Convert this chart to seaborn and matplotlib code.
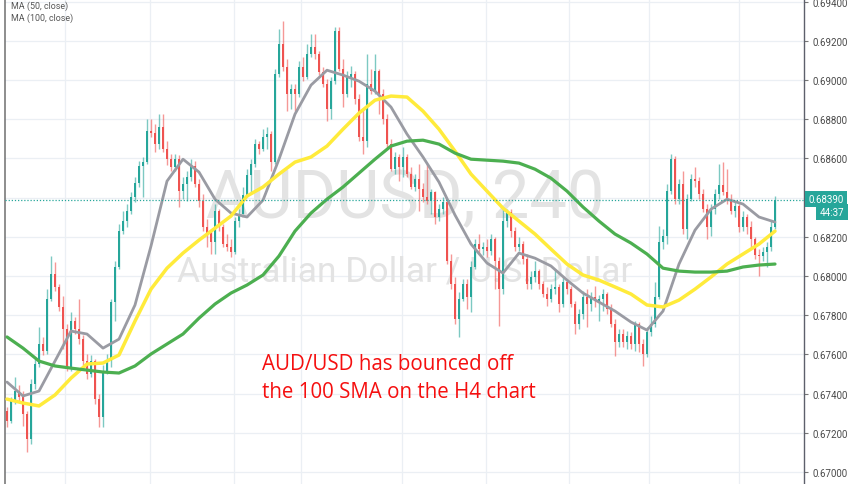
import numpy as np
import pandas as pd
import matplotlib
matplotlib.use("Agg")
import matplotlib.pyplot as plt
import seaborn as sns

# AUD/USD, H4 candles (left to right)
opens = [0.67311, 0.67260, 0.67362, 0.67413, 0.67383, 0.67296, 0.67168, 0.67449, 0.67551, 0.67653,
         0.67617, 0.67882, 0.68010, 0.67944, 0.67842, 0.67729, 0.67536, 0.67770, 0.67729, 0.67678,
         0.67566, 0.67500, 0.67566, 0.67372, 0.67281, 0.67515, 0.67566, 0.67867, 0.68046, 0.68229,
         0.68280, 0.68331, 0.68403, 0.68474, 0.68561, 0.68581, 0.68739, 0.68729, 0.68673, 0.68760,
         0.68647, 0.68596, 0.68556, 0.68596, 0.68433, 0.68469, 0.68505, 0.68561, 0.68469, 0.68382,
         0.68250, 0.68219, 0.68173, 0.68331, 0.68250, 0.68163, 0.68148, 0.68122, 0.68280, 0.68316,
         0.68413, 0.68515, 0.68571, 0.68673, 0.68647, 0.68709, 0.68724, 0.68581, 0.69030, 0.69183,
         0.69066, 0.68928, 0.68953, 0.68928, 0.69066, 0.69015, 0.69132, 0.69168, 0.69132, 0.69040,
         0.68979, 0.68851, 0.68994, 0.69249, 0.69055, 0.68928, 0.69015, 0.69030, 0.68902, 0.68709,
         0.68688, 0.68979, 0.68943, 0.69045, 0.68928, 0.68800, 0.68673, 0.68545, 0.68607, 0.68556,
         0.68607, 0.68520, 0.68454, 0.68494, 0.68443, 0.68403, 0.68382, 0.68428, 0.68301, 0.68341,
         0.68377, 0.68076, 0.67959, 0.67780, 0.67882, 0.67959, 0.67893, 0.68046, 0.68163, 0.68137,
         0.68148, 0.68127, 0.68188, 0.68076, 0.67933, 0.68280, 0.68326, 0.68229, 0.68148, 0.68163,
         0.68086, 0.67959, 0.67995, 0.68025, 0.67959, 0.67908, 0.67882, 0.67933, 0.67944, 0.67857,
         0.67969, 0.67933, 0.67857, 0.67755, 0.67806, 0.67893, 0.67857, 0.67893, 0.67872, 0.67882,
         0.67908, 0.67831, 0.67755, 0.67663, 0.67704, 0.67663, 0.67694, 0.67653, 0.67755, 0.67653,
         0.67602, 0.67714, 0.67755, 0.67893, 0.68173, 0.68204, 0.68433, 0.68596, 0.68392, 0.68469,
         0.68239, 0.68392, 0.68494, 0.68484, 0.68418, 0.68341, 0.68250, 0.68341, 0.68418, 0.68464,
         0.68428, 0.68392, 0.68331, 0.68357, 0.68250, 0.68301, 0.68250, 0.68188, 0.68107, 0.68102,
         0.68122, 0.68148, 0.68250]
highs = [0.67332, 0.67383, 0.67485, 0.67444, 0.67413, 0.67311, 0.67474, 0.67576, 0.67740, 0.67689,
         0.67933, 0.68102, 0.68071, 0.67959, 0.67898, 0.67755, 0.67816, 0.67791, 0.67882, 0.67699,
         0.67602, 0.67597, 0.67576, 0.67398, 0.67546, 0.67602, 0.67882, 0.68076, 0.68265, 0.68331,
         0.68367, 0.68428, 0.68505, 0.68586, 0.68607, 0.68800, 0.68800, 0.68775, 0.68826, 0.68826,
         0.68688, 0.68622, 0.68622, 0.68617, 0.68505, 0.68535, 0.68596, 0.68586, 0.68494, 0.68418,
         0.68290, 0.68229, 0.68367, 0.68341, 0.68265, 0.68214, 0.68188, 0.68301, 0.68341, 0.68454,
         0.68545, 0.68596, 0.68698, 0.68688, 0.68749, 0.68760, 0.68739, 0.69055, 0.69259, 0.69300,
         0.69106, 0.68979, 0.68979, 0.69096, 0.69117, 0.69183, 0.69234, 0.69234, 0.69147, 0.69066,
         0.69004, 0.69015, 0.69270, 0.69270, 0.69106, 0.69045, 0.69071, 0.69045, 0.68928, 0.68851,
         0.69132, 0.69055, 0.69132, 0.69055, 0.68953, 0.68826, 0.68698, 0.68632, 0.68622, 0.68658,
         0.68622, 0.68556, 0.68520, 0.68571, 0.68474, 0.68571, 0.68443, 0.68433, 0.68367, 0.68403,
         0.68392, 0.68112, 0.67995, 0.67918, 0.67984, 0.67984, 0.68076, 0.68188, 0.68214, 0.68173,
         0.68188, 0.68214, 0.68199, 0.68097, 0.68341, 0.68341, 0.68341, 0.68250, 0.68199, 0.68178,
         0.68112, 0.68025, 0.68076, 0.68035, 0.67974, 0.67944, 0.67959, 0.68035, 0.67959, 0.67995,
         0.67984, 0.67949, 0.67872, 0.67831, 0.67923, 0.67933, 0.67918, 0.67949, 0.67903, 0.67933,
         0.67918, 0.67857, 0.67780, 0.67729, 0.67729, 0.67719, 0.67714, 0.67770, 0.67765, 0.67678,
         0.67740, 0.67796, 0.67969, 0.68255, 0.68239, 0.68469, 0.68622, 0.68612, 0.68494, 0.68535,
         0.68418, 0.68520, 0.68556, 0.68505, 0.68443, 0.68367, 0.68367, 0.68443, 0.68571, 0.68581,
         0.68545, 0.68418, 0.68377, 0.68367, 0.68331, 0.68316, 0.68280, 0.68199, 0.68137, 0.68148,
         0.68173, 0.68280, 0.68408]
lows = [0.67230, 0.67250, 0.67347, 0.67362, 0.67235, 0.67102, 0.67143, 0.67423, 0.67536, 0.67597,
        0.67602, 0.67872, 0.67923, 0.67821, 0.67627, 0.67515, 0.67515, 0.67704, 0.67653, 0.67546,
        0.67474, 0.67485, 0.67347, 0.67230, 0.67230, 0.67500, 0.67536, 0.67770, 0.68035, 0.68214,
        0.68250, 0.68316, 0.68377, 0.68454, 0.68403, 0.68571, 0.68709, 0.68632, 0.68647, 0.68632,
        0.68566, 0.68535, 0.68535, 0.68352, 0.68392, 0.68382, 0.68484, 0.68454, 0.68352, 0.68229,
        0.68148, 0.68112, 0.68112, 0.68229, 0.68148, 0.68127, 0.68097, 0.68112, 0.68250, 0.68316,
        0.68403, 0.68418, 0.68556, 0.68622, 0.68637, 0.68647, 0.68535, 0.68571, 0.69015, 0.69045,
        0.68841, 0.68851, 0.68841, 0.68913, 0.68994, 0.69004, 0.69117, 0.69106, 0.69025, 0.68964,
        0.68790, 0.68800, 0.68979, 0.69045, 0.68862, 0.68913, 0.68964, 0.68877, 0.68688, 0.68622,
        0.68658, 0.68928, 0.68928, 0.68826, 0.68775, 0.68647, 0.68535, 0.68520, 0.68484, 0.68505,
        0.68505, 0.68443, 0.68433, 0.68331, 0.68377, 0.68367, 0.68316, 0.68265, 0.68280, 0.68316,
        0.68061, 0.67933, 0.67755, 0.67689, 0.67872, 0.67831, 0.67816, 0.68035, 0.68112, 0.68107,
        0.68097, 0.68107, 0.67933, 0.67745, 0.67908, 0.68250, 0.68199, 0.68127, 0.68127, 0.68061,
        0.67933, 0.67933, 0.67969, 0.67933, 0.67893, 0.67847, 0.67867, 0.67908, 0.67816, 0.67842,
        0.67908, 0.67842, 0.67704, 0.67729, 0.67780, 0.67740, 0.67821, 0.67842, 0.67770, 0.67821,
        0.67806, 0.67740, 0.67592, 0.67638, 0.67638, 0.67627, 0.67627, 0.67617, 0.67612, 0.67541,
        0.67587, 0.67694, 0.67740, 0.67882, 0.68137, 0.68163, 0.68418, 0.68367, 0.68367, 0.68214,
        0.68188, 0.68382, 0.68454, 0.68392, 0.68326, 0.68188, 0.68204, 0.68316, 0.68392, 0.68413,
        0.68367, 0.68316, 0.68301, 0.68224, 0.68229, 0.68214, 0.68148, 0.68086, 0.68000, 0.68076,
        0.68046, 0.68127, 0.68239]
closes = [0.67260, 0.67362, 0.67413, 0.67383, 0.67296, 0.67168, 0.67449, 0.67551, 0.67653, 0.67617,
          0.67882, 0.68010, 0.67944, 0.67842, 0.67729, 0.67536, 0.67770, 0.67729, 0.67678, 0.67566,
          0.67500, 0.67566, 0.67372, 0.67281, 0.67515, 0.67566, 0.67867, 0.68046, 0.68229, 0.68280,
          0.68331, 0.68403, 0.68474, 0.68561, 0.68581, 0.68739, 0.68729, 0.68673, 0.68760, 0.68647,
          0.68596, 0.68556, 0.68596, 0.68433, 0.68469, 0.68505, 0.68561, 0.68469, 0.68382, 0.68250,
          0.68219, 0.68173, 0.68331, 0.68250, 0.68163, 0.68148, 0.68122, 0.68280, 0.68316, 0.68413,
          0.68515, 0.68571, 0.68673, 0.68647, 0.68709, 0.68724, 0.68581, 0.69030, 0.69183, 0.69066,
          0.68928, 0.68953, 0.68928, 0.69066, 0.69015, 0.69132, 0.69168, 0.69132, 0.69040, 0.68979,
          0.68851, 0.68994, 0.69249, 0.69055, 0.68928, 0.69015, 0.69030, 0.68902, 0.68709, 0.68688,
          0.68979, 0.68943, 0.69045, 0.68928, 0.68800, 0.68673, 0.68545, 0.68607, 0.68556, 0.68607,
          0.68520, 0.68454, 0.68494, 0.68443, 0.68403, 0.68382, 0.68428, 0.68301, 0.68341, 0.68377,
          0.68076, 0.67959, 0.67780, 0.67882, 0.67959, 0.67893, 0.68046, 0.68163, 0.68137, 0.68148,
          0.68127, 0.68188, 0.68076, 0.67933, 0.68280, 0.68326, 0.68229, 0.68148, 0.68163, 0.68086,
          0.67959, 0.67995, 0.68025, 0.67959, 0.67908, 0.67882, 0.67933, 0.67944, 0.67857, 0.67969,
          0.67933, 0.67857, 0.67755, 0.67806, 0.67893, 0.67857, 0.67893, 0.67872, 0.67882, 0.67908,
          0.67831, 0.67755, 0.67663, 0.67704, 0.67663, 0.67694, 0.67653, 0.67755, 0.67653, 0.67602,
          0.67714, 0.67755, 0.67893, 0.68173, 0.68204, 0.68433, 0.68596, 0.68392, 0.68469, 0.68239,
          0.68392, 0.68494, 0.68484, 0.68418, 0.68341, 0.68250, 0.68341, 0.68418, 0.68464, 0.68428,
          0.68392, 0.68331, 0.68357, 0.68250, 0.68301, 0.68250, 0.68188, 0.68107, 0.68102, 0.68122,
          0.68148, 0.68250, 0.68390]

# moving averages, read every 4th bar
ma_bars = list(range(0, 193, 4))
ma_grey = [0.67459, 0.67388, 0.67413, 0.67566, 0.67719, 0.67704, 0.67632, 0.67678, 0.67852, 0.68153,
           0.68484, 0.68596, 0.68530, 0.68392, 0.68321, 0.68301, 0.68387, 0.68596, 0.68826, 0.68974,
           0.69050, 0.69025, 0.68994, 0.68943, 0.68862, 0.68724, 0.68607, 0.68479, 0.68311, 0.68163,
           0.68066, 0.68015, 0.68117, 0.68091, 0.68051, 0.67979, 0.67913, 0.67867, 0.67821, 0.67765,
           0.67724, 0.67821, 0.68061, 0.68234, 0.68341, 0.68392, 0.68367, 0.68301, 0.68275]
ma_50 = [0.67372, 0.67352, 0.67337, 0.67393, 0.67479, 0.67551, 0.67556, 0.67597, 0.67770, 0.67933,
         0.68040, 0.68117, 0.68183, 0.68244, 0.68306, 0.68408, 0.68454, 0.68520, 0.68581, 0.68607,
         0.68663, 0.68749, 0.68831, 0.68897, 0.68918, 0.68913, 0.68841, 0.68749, 0.68637, 0.68520,
         0.68433, 0.68346, 0.68280, 0.68214, 0.68137, 0.68061, 0.68005, 0.67979, 0.67944, 0.67908,
         0.67852, 0.67842, 0.67877, 0.67933, 0.67995, 0.68061, 0.68112, 0.68163, 0.68229]
ma_100 = [0.67689, 0.67632, 0.67566, 0.67541, 0.67530, 0.67520, 0.67510, 0.67505, 0.67541, 0.67602,
          0.67653, 0.67704, 0.67785, 0.67857, 0.67913, 0.67954, 0.68005, 0.68102, 0.68229, 0.68321,
          0.68392, 0.68454, 0.68525, 0.68596, 0.68663, 0.68688, 0.68693, 0.68673, 0.68627, 0.68596,
          0.68591, 0.68586, 0.68576, 0.68545, 0.68499, 0.68433, 0.68352, 0.68280, 0.68214, 0.68168,
          0.68112, 0.68040, 0.68025, 0.68020, 0.68020, 0.68025, 0.68046, 0.68056, 0.68061]

price_ticks = [0.670, 0.672, 0.674, 0.676, 0.678, 0.680, 0.682, 0.684, 0.686, 0.688, 0.690, 0.692, 0.694]
day_lines = [14.5, 35.75, 56.75, 73.5, 98.75, 119.75, 140.5, 160.5, 183]
last_price = 0.68390
countdown = "44:37"

UP = "#26a69a"
DOWN = "#ef5350"

sns.set_style("white")
plt.rcParams['font.family'] = ['Roboto', 'DejaVu Sans']

df = pd.DataFrame({"open": opens, "high": highs, "low": lows, "close": closes})
df["bar"] = np.arange(len(df))
df["color"] = np.where(df["close"] >= df["open"], UP, DOWN)
df["body"] = (df["close"] - df["open"]).abs().clip(lower=0.00003)
df["bottom"] = df[["open", "close"]].min(axis=1)

ma = pd.DataFrame({"bar": ma_bars, "grey": ma_grey, "ma50": ma_50, "ma100": ma_100})

fig = plt.figure(figsize=(8.52, 4.85), dpi=100)
ax = fig.add_axes([5 / 852, 0, 799 / 852, 1])

# watermark
ax.text(0.5006, 1 - 200 / 485, "AUDUSD, 240", transform=ax.transAxes, ha="center", va="center",
        fontsize=48, color="#e3e3e3", zorder=0.6)
ax.text(0.5006, 1 - 272 / 485, "Australian Dollar / U.S. Dollar", transform=ax.transAxes,
        ha="center", va="center", fontsize=25.5, color="#e3e3e3", zorder=0.6)

# candles
ax.vlines(df["bar"], df["low"], df["high"], colors=df["color"], linewidth=1.0, alpha=0.6, zorder=2)
ax.bar(df["bar"], df["body"], bottom=df["bottom"], width=0.62, color=df["color"], linewidth=0, zorder=2.1)

# moving averages
sns.lineplot(data=ma, x="bar", y="grey", ax=ax, color="#9a9ba3", linewidth=2.0, zorder=3)
sns.lineplot(data=ma, x="bar", y="ma50", ax=ax, color="#ffeb3b", linewidth=2.5, zorder=3)
sns.lineplot(data=ma, x="bar", y="ma100", ax=ax, color="#4caf50", linewidth=2.3, zorder=3)

ax.axhline(last_price, color=UP, linewidth=0.9, linestyle=(0, (1, 1.5)), zorder=3.2)

ax.set_xlim(-0.5, 199.25)
ax.set_ylim(0.669388, 0.694133)
ax.set_xlabel("")
ax.set_ylabel("")

ax.set_xticks(day_lines)
ax.tick_params(axis="x", length=0, labelbottom=False)
ax.yaxis.tick_right()
ax.set_yticks(price_ticks)
ax.set_yticklabels(["" if abs(t - 0.684) < 1e-9 else f"{t:.5f}" for t in price_ticks])
ax.tick_params(axis="y", length=3, width=0.8, color="#777777", labelsize=7, labelcolor="#4a4a4a", pad=3)
ax.grid(True, color="#ebeff4", linewidth=0.9)
ax.set_axisbelow(True)

for s in ["top", "bottom"]:
    ax.spines[s].set_visible(False)
ax.spines["right"].set_color("#5d606b")
ax.spines["right"].set_linewidth(1.0)
ax.spines["left"].set_color("#7a7a7a")
ax.spines["left"].set_linewidth(1.2)

# legend lines at the top-left
ax.text(0.0075, 1 - 6 / 485, "MA (50, close)", transform=ax.transAxes, ha="left", va="center",
        fontsize=6.4, color="#555555")
ax.text(0.0075, 1 - 18 / 485, "MA (100, close)", transform=ax.transAxes, ha="left", va="center",
        fontsize=6.4, color="#555555")

# annotation
ax.text(0.3217, 1 - 365 / 485, "AUD/USD has bounced off", transform=ax.transAxes, ha="left",
        va="center", fontsize=14.8, color="#f50f0f", family=["Open Sans", "DejaVu Sans"], zorder=5)
ax.text(0.3217, 1 - 393 / 485, "the 100 SMA on the H4 chart", transform=ax.transAxes, ha="left",
        va="center", fontsize=14.8, color="#f50f0f", family=["Open Sans", "DejaVu Sans"], zorder=5)

# last price tag
fig.text(826 / 852, 1 - 200 / 485, f"{last_price:.5f}", ha="center", va="center", fontsize=7,
         color="white", bbox=dict(boxstyle="square,pad=0.3", fc=UP, ec="none"))
fig.text(832 / 852, 1 - 213 / 485, countdown, ha="center", va="center", fontsize=7,
         color="white", bbox=dict(boxstyle="square,pad=0.35", fc=UP, ec="none"))

fig.savefig("out.png", dpi=100)
